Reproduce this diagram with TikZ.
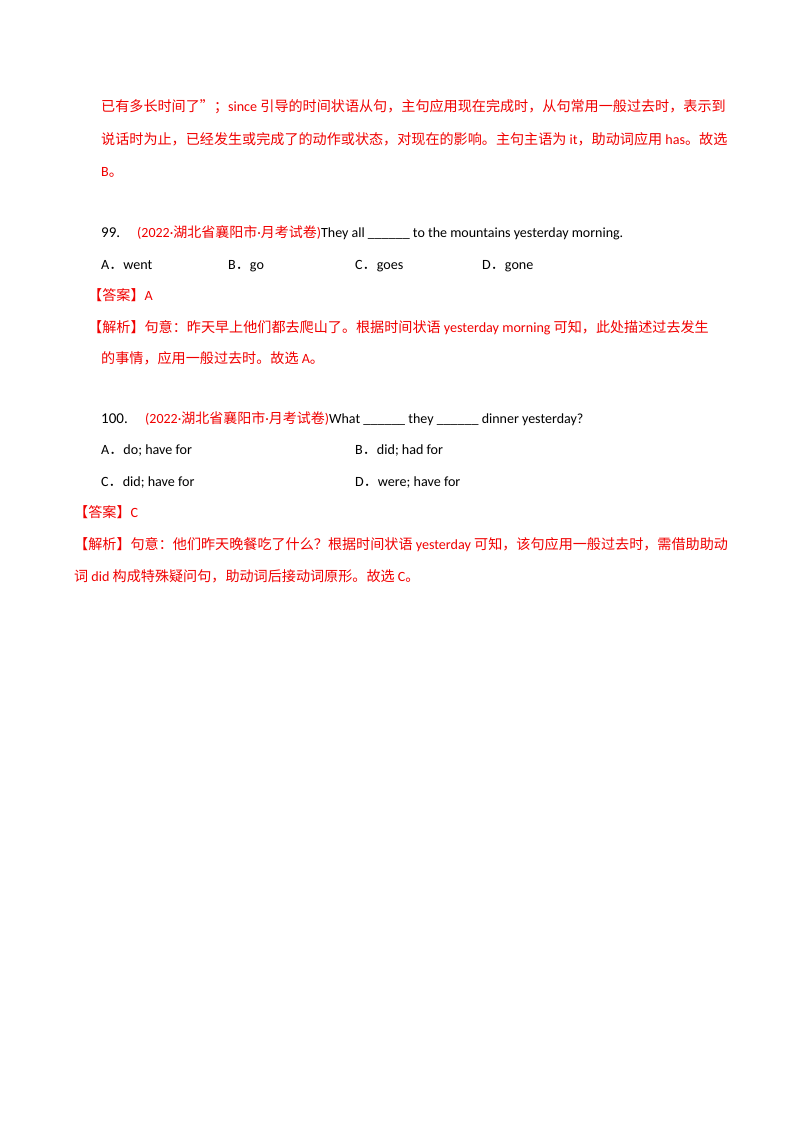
\documentclass[tikz,border=0pt]{standalone}
\usepackage{fontspec}
\setmainfont{Carlito}
\newfontfamily\cjk{Noto Sans CJK SC}
\definecolor{ansred}{RGB}{240,0,0}
\begin{document}
\begin{tikzpicture}[x=1pt,y=-1pt,
  ln/.style={anchor=base west,inner sep=0pt,font=\fontsize{14.1}{17}\selectfont},
  rd/.style={ln,text=ansred}]
\useasboundingbox (0,0) rectangle (800,1132);
\node[rd] (l1) at (101,111) {{\cjk 已有多长时间了”；}since {\cjk 引导的时间状语从句，主句应用现在完成时，从句常用一般过去时，表示到}};
\node[rd] (l2) at (101,144) {{\cjk 说话时为止，已经发生或完成了的动作或状态，对现在的影响。主句主语为} it{\cjk ，助动词应用} has{\cjk 。故选}};
\node[rd] (l3) at (101,176) {B{\cjk 。}};
\node[ln,font=\fontsize{15}{17}\selectfont] (q99) at (101,237) {99.};
\node[ln,font=\fontsize{14}{17}\selectfont] (q99b) at (137,237) {\textcolor{ansred}{(2022·{\cjk 湖北省襄阳市}·{\cjk 月考试卷})}They all \_\_\_\_\_\_ to the mountains yesterday morning.};
\node[ln] (oa) at (101,269) {A{\cjk ．}went};
\node[ln] (ob) at (228,269) {B{\cjk ．}go};
\node[ln] (oc) at (355,269) {C{\cjk ．}goes};
\node[ln] (od) at (482,269) {D{\cjk ．}gone};
\node[rd] (a99) at (88,300) {{\cjk 【答案】}A};
\node[rd] (j99a) at (88,332) {{\cjk 【解析】句意：昨天早上他们都去爬山了。根据时间状语} yesterday morning {\cjk 可知，此处描述过去发生}};
\node[rd] (j99b) at (101,363) {{\cjk 的事情，应用一般过去时。故选} A{\cjk 。}};
\node[ln,font=\fontsize{15}{17}\selectfont] (q100) at (101,423) {100.};
\node[ln,font=\fontsize{14}{17}\selectfont] (q100b) at (145,423) {\textcolor{ansred}{(2022·{\cjk 湖北省襄阳市}·{\cjk 月考试卷})}What \_\_\_\_\_\_ they \_\_\_\_\_\_ dinner yesterday?};
\node[ln] (pa) at (101,454) {A{\cjk ．}do; have for};
\node[ln] (pb) at (355,454) {B{\cjk ．}did; had for};
\node[ln] (pc) at (101,486) {C{\cjk ．}did; have for};
\node[ln] (pd) at (355,486) {D{\cjk ．}were; have for};
\node[rd] (a100) at (74,517) {{\cjk 【答案】}C};
\node[rd] (j100a) at (74,549) {{\cjk 【解析】句意：他们昨天晚餐吃了什么？根据时间状语} yesterday {\cjk 可知，该句应用一般过去时，需借助助动}};
\node[rd] (j100b) at (74,581) {{\cjk 词} did {\cjk 构成特殊疑问句，助动词后接动词原形。故选} C{\cjk 。}};
\end{tikzpicture}
\end{document}
